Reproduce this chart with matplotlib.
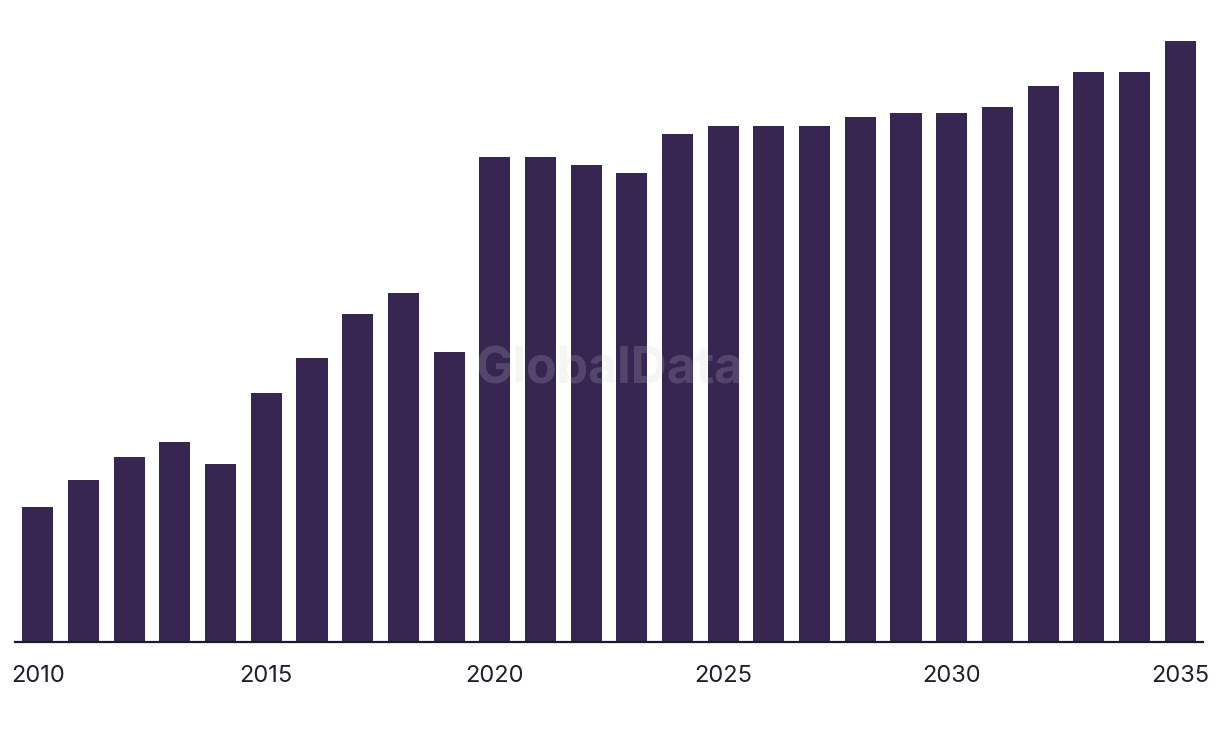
import matplotlib
matplotlib.use("Agg")
import matplotlib.pyplot as plt

years = list(range(2010, 2036))
values = [134, 161, 184, 199, 177, 248, 283, 327, 348, 289,
          483, 483, 475, 467, 506, 514, 514, 514, 523, 527,
          527, 533, 554, 568, 568, 599]
tick_years = [2010, 2015, 2020, 2025, 2030, 2035]

plt.rcParams['font.family'] = ['Inter', 'DejaVu Sans']

fig = plt.figure(figsize=(12.2, 7.38), dpi=100)
W, H = 1220, 738
left, right = 15 / W, 1203 / W
bottom = 1 - 641.5 / H
top = 1 - 20 / H
ax = fig.add_axes([left, bottom, right - left, top - bottom])

ax.bar(years, values, width=0.68, color='#372552', zorder=2)
ax.set_xlim(years[0] - 0.5, years[-1] + 0.5)
ax.set_ylim(0, 620)

for s in ['top', 'right', 'left']:
    ax.spines[s].set_visible(False)
ax.spines['bottom'].set_color('#1b1a2b')
ax.spines['bottom'].set_linewidth(1.6)
ax.spines['bottom'].set_zorder(3)
ax.set_yticks([])
ax.set_xticks(tick_years)
ax.set_xticklabels([str(y) for y in tick_years])
ax.tick_params(axis='x', length=0, pad=17, labelsize=17, labelcolor='#1f1d2e')

fig.text(610 / W, 1 - 370 / H, 'GlobalData', ha='center', va='center',
         fontsize=36, fontweight='bold', color='#cdcdcd', alpha=0.2, zorder=5)

fig.savefig('out.png', dpi=100)
